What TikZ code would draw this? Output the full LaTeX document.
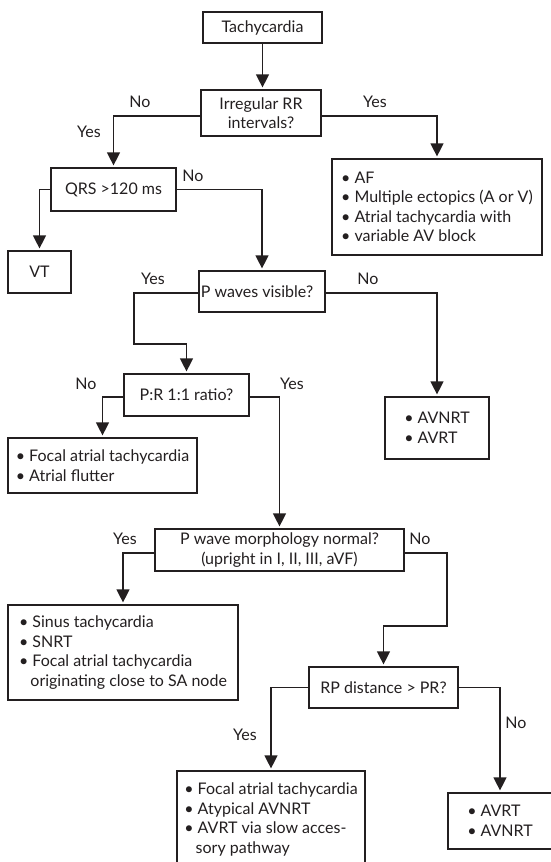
\documentclass[tikz,border=0pt]{standalone}
\usepackage{fontspec}
\setmainfont{Lato}
\usetikzlibrary{arrows.meta}
\definecolor{ink}{HTML}{231F20}
\newcommand\bi{\textbullet\ }
\newcommand\ci{\hphantom{\textbullet\ }\hspace*{-2pt}}
\begin{document}
\begin{tikzpicture}[x=1pt,y=-1pt,
  font=\fontsize{16}{19.5}\selectfont, text=ink,
  box/.style={draw=ink, line width=1.2pt, rectangle, inner sep=0pt, align=center},
  lst/.style={box, align=left},
  lab/.style={inner sep=0pt},
  conn/.style={draw=ink, line width=1.2pt, -{Triangle[length=13pt,width=13pt]}, shorten >=2pt}
]
\useasboundingbox (0,0) rectangle (550,862);
\fill[white] (0,0) rectangle (550,862);

% boxes
\node[box, minimum width=119pt, minimum height=31pt] (tach) at (262.5,27.5) {Tachycardia};
\node[box, minimum width=120pt, minimum height=46pt] (irr) at (261,113) {Irregular RR\\intervals?};
\node[lst, minimum width=210pt, minimum height=96pt] (af) at (437,207)
  {\bi AF\\\bi Multiple ectopics (A or V)\\\bi Atrial tachycardia with\\\bi variable AV block};
\node[box, minimum width=125pt, minimum height=43pt] (qrs) at (113.5,189.5) {QRS >120 ms};
\node[box, minimum width=63pt, minimum height=42pt] (vt) at (39.5,272) {VT};
\node[box, minimum width=126pt, minimum height=41pt] (pw) at (262,291.5) {P waves visible?\hspace*{10pt}};
\node[lst, minimum width=104pt, minimum height=62pt] (avn) at (437,428) {\bi AVNRT\\\bi AVRT};
\node[box, minimum width=125pt, minimum height=42pt] (pr) at (186.5,395) {P:R 1:1 ratio?};
\node[lst, minimum width=189pt, minimum height=55pt] (fo1) at (102.5,465.5)
  {\bi Focal atrial tachycardia\\\bi Atrial flutter};
\node[box, minimum width=249pt, minimum height=42pt] (pm) at (279.5,550)
  {P wave morphology normal?\\(upright in I, II, III, aVF)};
\node[lst, minimum width=230pt, minimum height=95pt] (sin) at (123,652.5)
  {\bi Sinus tachycardia\\\bi SNRT\\\bi Focal atrial tachycardia\\\ci originating close to SA node};
\node[box, minimum width=149pt, minimum height=41pt] (rp) at (383.5,687.5) {RP distance > PR?};
\node[lst, minimum width=188pt, minimum height=97pt] (fo2) at (271,819.5)
  {\bi Focal atrial tachycardia\\\bi Atypical AVNRT\\\bi AVRT via slow acces-\\\ci sory pathway};
\node[lst, minimum width=104pt, minimum height=56pt] (avr) at (500,821) {\bi AVRT\\\bi AVNRT};

% bend points
\coordinate (k1) at (134,344);
\coordinate (k2) at (447,626);

% connectors
\draw[conn] (tach.south) -- (tach.south |- irr.north);
\draw[conn] ([yshift=-3pt]irr.west) -| (qrs.north);
\draw[conn] ([yshift=-3pt]irr.east) -| (af.north);
\draw[conn] (qrs.west) -| (vt.north);
\draw[conn] (qrs.east) -| (pw.north);
\draw[conn] ([yshift=-1.5pt]pw.west) -| (k1) -| (pr.north);
\draw[conn] ([yshift=-1.5pt]pw.east) -| (avn.north);
\draw[conn] ([yshift=-2pt]pr.west) -| (fo1.north);
\draw[conn] ([yshift=-2pt]pr.east) -| (pm.north);
\draw[conn] ([yshift=-3pt]pm.west) -| (sin.north);
\draw[conn] ([yshift=-3pt]pm.east) -| (k2) -| (rp.north);
\draw[conn] (rp.west) -| (fo2.north);
\draw[conn] (rp.east) -| (avr.north);

% labels
\node[lab] (l1) at (140,102) {No};
\node[lab] (l2) at (89,132) {Yes};
\node[lab] (l3) at (375,102) {Yes};
\node[lab] (l4) at (193,176) {No};
\node[lab] (l5) at (153,279) {Yes};
\node[lab] (l6) at (368,279) {No};
\node[lab] (l7) at (86,384) {No};
\node[lab] (l8) at (292,384) {Yes};
\node[lab] (l9) at (125,539) {Yes};
\node[lab] (l10) at (420,539) {No};
\node[lab] (l11) at (245,735) {Yes};
\node[lab] (l12) at (516,723) {No};
\end{tikzpicture}
\end{document}
